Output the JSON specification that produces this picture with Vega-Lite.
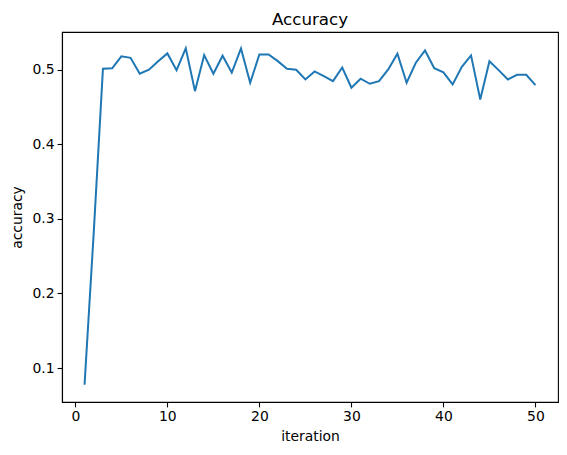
{
  "$schema": "https://vega.github.io/schema/vega-lite/v6.json",
  "autosize": {"type": "none"},
  "width": 496,
  "height": 370,
  "padding": {"left": 62, "top": 32, "right": 9, "bottom": 53},
  "background": "white",
  "title": {"text": "Accuracy", "font": "DejaVu Sans", "fontSize": 16.7, "fontWeight": "normal", "color": "black", "anchor": "middle", "frame": "group", "baseline": "alphabetic", "offset": 7, "dy": 17},
  "config": {
    "view": {"stroke": "black", "strokeWidth": 1.1},
    "axis": {
      "grid": false,
      "domainColor": "black",
      "domainWidth": 1.1,
      "tickColor": "black",
      "tickWidth": 1.1,
      "tickSize": 4.9,
      "labelPadding": 3,
      "labelFont": "DejaVu Sans",
      "labelFontSize": 13.9,
      "labelColor": "black",
      "titleFont": "DejaVu Sans",
      "titleFontSize": 13.9,
      "titleFontWeight": "normal",
      "titleColor": "black"
    }
  },
  "data": {"values": [
    {"iteration": 1, "accuracy": 0.0776},
    {"iteration": 2, "accuracy": 0.282},
    {"iteration": 3, "accuracy": 0.5013},
    {"iteration": 4, "accuracy": 0.502},
    {"iteration": 5, "accuracy": 0.518},
    {"iteration": 6, "accuracy": 0.516},
    {"iteration": 7, "accuracy": 0.4946},
    {"iteration": 8, "accuracy": 0.500},
    {"iteration": 9, "accuracy": 0.5115},
    {"iteration": 10, "accuracy": 0.5219},
    {"iteration": 11, "accuracy": 0.4995},
    {"iteration": 12, "accuracy": 0.5286},
    {"iteration": 13, "accuracy": 0.4713},
    {"iteration": 14, "accuracy": 0.5196},
    {"iteration": 15, "accuracy": 0.4946},
    {"iteration": 16, "accuracy": 0.5188},
    {"iteration": 17, "accuracy": 0.496},
    {"iteration": 18, "accuracy": 0.5286},
    {"iteration": 19, "accuracy": 0.4825},
    {"iteration": 20, "accuracy": 0.5205},
    {"iteration": 21, "accuracy": 0.5205},
    {"iteration": 22, "accuracy": 0.5115},
    {"iteration": 23, "accuracy": 0.5013},
    {"iteration": 24, "accuracy": 0.500},
    {"iteration": 25, "accuracy": 0.487},
    {"iteration": 26, "accuracy": 0.4977},
    {"iteration": 27, "accuracy": 0.4914},
    {"iteration": 28, "accuracy": 0.4847},
    {"iteration": 29, "accuracy": 0.503},
    {"iteration": 30, "accuracy": 0.4758},
    {"iteration": 31, "accuracy": 0.488},
    {"iteration": 32, "accuracy": 0.4812},
    {"iteration": 33, "accuracy": 0.4847},
    {"iteration": 34, "accuracy": 0.5004},
    {"iteration": 35, "accuracy": 0.5215},
    {"iteration": 36, "accuracy": 0.4825},
    {"iteration": 37, "accuracy": 0.5094},
    {"iteration": 38, "accuracy": 0.5259},
    {"iteration": 39, "accuracy": 0.502},
    {"iteration": 40, "accuracy": 0.4964},
    {"iteration": 41, "accuracy": 0.4803},
    {"iteration": 42, "accuracy": 0.504},
    {"iteration": 43, "accuracy": 0.5192},
    {"iteration": 44, "accuracy": 0.4601},
    {"iteration": 45, "accuracy": 0.5115},
    {"iteration": 46, "accuracy": 0.4995},
    {"iteration": 47, "accuracy": 0.487},
    {"iteration": 48, "accuracy": 0.4933},
    {"iteration": 49, "accuracy": 0.4933},
    {"iteration": 50, "accuracy": 0.4793}
  ]},
  "mark": {"type": "line", "color": "#1f77b4", "strokeWidth": 2},
  "encoding": {
    "x": {"field": "iteration", "type": "quantitative", "title": "iteration",
      "scale": {"domain": [-1.45, 52.45], "nice": false, "zero": false},
      "axis": {"values": [0, 10, 20, 30, 40, 50], "titlePadding": 6}},
    "y": {"field": "accuracy", "type": "quantitative", "title": "accuracy",
      "scale": {"domain": [0.0545, 0.5506], "nice": false, "zero": false},
      "axis": {"values": [0.1, 0.2, 0.3, 0.4, 0.5], "format": ".1f", "titlePadding": 8}}
  }
}
